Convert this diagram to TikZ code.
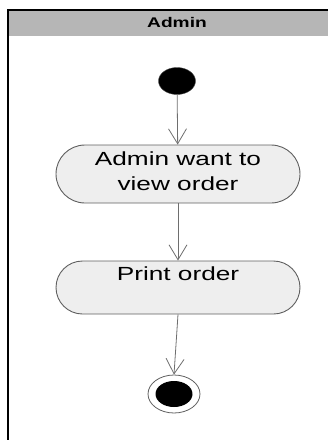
\documentclass[tikz,border=0pt]{standalone}
\usepackage{fontspec}
\setmainfont{Liberation Sans}
\usetikzlibrary{shapes.geometric,shapes.misc,arrows.meta}
\definecolor{hdr}{RGB}{182,182,182}
\definecolor{boxfill}{RGB}{238,238,238}
\definecolor{edge}{RGB}{95,95,95}
\definecolor{lineg}{RGB}{110,110,110}
\tikzset{
  activity/.style={rounded rectangle, draw=edge, line width=0.9pt, fill=boxfill,
    minimum width=244pt, inner sep=0pt},
  txt/.style={font=\fontsize{19}{25}\selectfont, inner sep=0pt, align=center, anchor=base},
  flow/.style={draw=lineg, line width=0.8pt, -{Straight Barb[length=15pt,width=18pt,line width=0.8pt]}},
  startnode/.style={ellipse, fill=black, draw=black!70, minimum width=37pt, minimum height=27pt, inner sep=0pt},
  endring/.style={ellipse, draw=edge, line width=0.8pt, fill=white, minimum width=52pt, minimum height=38pt, inner sep=0pt},
  enddot/.style={ellipse, fill=black, minimum width=37pt, minimum height=26pt, inner sep=0pt},
}
\begin{document}
\begin{tikzpicture}[x=1pt,y=-1pt]
\useasboundingbox (0,0) rectangle (328,440);
% swimlane frame
\fill[hdr] (8,10) rectangle (330,36);
\draw[black, line width=1.4pt] (8,445) -- (8,10) -- (332,10);
\node[inner sep=0pt, anchor=base, font=\bfseries\fontsize{14}{16}\selectfont] (lane) at (177,27) {\scalebox{1.37}[1]{Admin}};
% nodes
\node[startnode] (s) at (177,81) {};
\node[activity, minimum height=58pt] (a1) at (178,174) {};
\node[txt] (t1) at (178,190) {\scalebox{1.38}[1]{Admin want to}\\\scalebox{1.38}[1]{view order}};
\node[activity, minimum height=53pt] (a2) at (178,287.5) {};
\node[txt] (t2) at (178,280) {\scalebox{1.38}[1]{Print order}};
\node[endring] (f) at (174,394) {};
\node[enddot] (fd) at (f.center) {};
% flows
\draw[flow] (s) -- (a1);
\draw[flow] (a1) -- (a2);
\draw[flow] (a2.south) -- (f.north);
\end{tikzpicture}
\end{document}
